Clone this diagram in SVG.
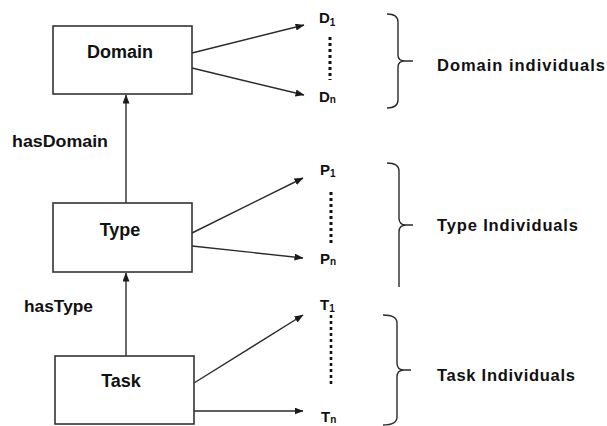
<svg xmlns="http://www.w3.org/2000/svg" width="607" height="426" viewBox="0 0 607 426">
  <defs>
    <marker id="arrow" markerWidth="9" markerHeight="7" refX="8.5" refY="3.5" orient="auto" markerUnits="userSpaceOnUse">
      <path d="M0,0 L9,3.5 L0,7 Z" fill="#1a1a1a"/>
    </marker>
    <style>
      .box { fill: #ffffff; stroke: #333333; stroke-width: 1.6; }
      .lbl { font-family: "Liberation Sans", Arial, sans-serif; font-weight: bold; fill: #111111; }
      .name { font-size: 18px; text-anchor: middle; }
      .rel { font-size: 16px; }
      .ind { font-size: 16.5px; }
      .sym { font-size: 15px; }
      .sub { font-size: 10px; }
      .edge { stroke: #2a2a2a; stroke-width: 1.4; fill: none; }
      .dots { stroke: #111111; stroke-width: 3; stroke-dasharray: 3 3; fill: none; }
      .brace { stroke: #2a2a2a; stroke-width: 1.4; fill: none; }
    </style>
  </defs>
  <rect width="607" height="426" fill="#ffffff"/>

  <!-- connectors -->
  <g id="connectors">
    <line class="edge" x1="126" y1="203" x2="126" y2="95" marker-end="url(#arrow)"/>
    <line class="edge" x1="126" y1="356" x2="126" y2="273" marker-end="url(#arrow)"/>
    <line class="edge" x1="192" y1="53" x2="304" y2="25" marker-end="url(#arrow)"/>
    <line class="edge" x1="192" y1="68" x2="304" y2="95" marker-end="url(#arrow)"/>
    <line class="edge" x1="192" y1="233" x2="303" y2="178" marker-end="url(#arrow)"/>
    <line class="edge" x1="192" y1="246" x2="303" y2="258" marker-end="url(#arrow)"/>
    <line class="edge" x1="194" y1="383" x2="303" y2="315" marker-end="url(#arrow)"/>
    <line class="edge" x1="194" y1="411" x2="303" y2="411" marker-end="url(#arrow)"/>
  </g>

  <!-- relation labels -->
  <g id="relations">
    <text class="lbl rel" x="12" y="147" textLength="96" lengthAdjust="spacingAndGlyphs">hasDomain</text>
    <text class="lbl rel" x="24" y="312" textLength="69" lengthAdjust="spacingAndGlyphs">hasType</text>
  </g>

  <!-- class nodes -->
  <g id="domain">
    <rect class="box" x="53" y="26" width="139" height="68"/>
    <text class="lbl name" x="120" y="58">Domain</text>
  </g>
  <g id="type">
    <rect class="box" x="53" y="203" width="139" height="69"/>
    <text class="lbl name" x="120" y="236">Type</text>
  </g>
  <g id="task">
    <rect class="box" x="55" y="356" width="139" height="68"/>
    <text class="lbl name" x="121" y="387">Task</text>
  </g>

  <!-- domain individuals -->
  <g id="domain-individuals">
    <text class="lbl sym" x="319" y="23">D<tspan class="sub" dy="3">1</tspan></text>
    <line class="dots" x1="330" y1="37" x2="330" y2="80"/>
    <text class="lbl sym" x="319" y="102">D<tspan class="sub" dy="1">n</tspan></text>
    <path class="brace" d="M387,14 Q398,14 398,22 V55 Q398,61 405,61 H413 M405,61 Q398,61 398,67 V100 Q398,108 387,108"/>
    <text class="lbl ind" x="437" y="71" textLength="168" lengthAdjust="spacing">Domain individuals</text>
  </g>

  <!-- type individuals -->
  <g id="type-individuals">
    <text class="lbl sym" x="320" y="175">P<tspan class="sub" dy="2">1</tspan></text>
    <line class="dots" x1="331" y1="192" x2="331" y2="244"/>
    <text class="lbl sym" x="320" y="264">P<tspan class="sub" dy="1">n</tspan></text>
    <path class="brace" d="M387,163 Q399,163 399,171 V218 Q399,225 406,225 H413 M406,225 Q399,225 399,232 V287"/>
    <text class="lbl ind" x="437" y="231" textLength="141" lengthAdjust="spacing">Type Individuals</text>
  </g>

  <!-- task individuals -->
  <g id="task-individuals">
    <text class="lbl sym" x="320" y="310">T<tspan class="sub" dy="2">1</tspan></text>
    <line class="dots" x1="331" y1="315" x2="331" y2="384" style="stroke-width:2.6"/>
    <text class="lbl sym" x="321" y="422">T<tspan class="sub" dy="1">n</tspan></text>
    <path class="brace" d="M383,315 Q397,315 397,323 V363 Q397,370 404,370 H411 M404,370 Q397,370 397,377 V417 Q397,425 383,425"/>
    <text class="lbl ind" x="437" y="381" textLength="138" lengthAdjust="spacing">Task Individuals</text>
  </g>
</svg>
